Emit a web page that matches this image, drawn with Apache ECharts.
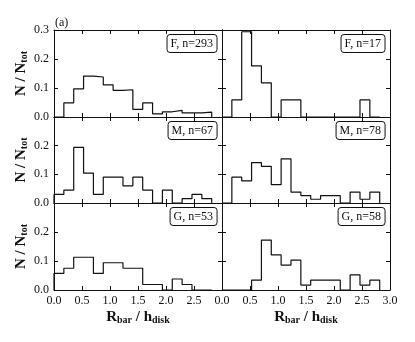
<!DOCTYPE html>
<html>
<head>
<meta charset="utf-8">
<script src="https://cdn.jsdelivr.net/npm/echarts@6/dist/echarts.min.js"></script>
<style>
html, body { margin: 0; background: #fff; }
#chart { width: 415px; height: 342px; }
</style>
</head>
<body>
<div id="chart"></div>
<script>
// bin edges of R_bar / h_disk (same for every panel)
var binEdges = [0.000, 0.176, 0.352, 0.528, 0.704, 0.880, 1.056, 1.232, 1.408,
                1.584, 1.760, 1.936, 2.112, 2.288, 2.464, 2.640, 2.816];

// N / N_tot per bin
var fLeft  = [0, 0.049, 0.097, 0.141, 0.138, 0.111, 0.092, 0.094, 0.026, 0.049, 0.011, 0.018, 0.023, 0.014, 0.014, 0.017];
var fRight = [0, 0.059, 0.294, 0.176, 0.118, 0, 0.059, 0.059, 0, 0, 0, 0, 0, 0, 0.059, 0];
var mLeft  = [0.030, 0.045, 0.194, 0.104, 0.030, 0.090, 0.090, 0.060, 0.090, 0.045, 0, 0.045, 0, 0.015, 0.030, 0.015];
var mRight = [0, 0.090, 0.077, 0.141, 0.128, 0.064, 0.154, 0.038, 0.026, 0.013, 0.026, 0.026, 0, 0.038, 0.013, 0.038];
var gLeft  = [0.057, 0.075, 0.113, 0.113, 0.057, 0.094, 0.094, 0.075, 0.075, 0.019, 0.019, 0, 0.038, 0.019, 0, 0];
var gRight = [0, 0, 0, 0.034, 0.172, 0.121, 0.086, 0.103, 0.017, 0.034, 0.034, 0.034, 0, 0.052, 0.017, 0.034];

var panelValues = [fLeft, fRight, mLeft, mRight, gLeft, gRight];
var panelLabels = ['F, n=293', 'F, n=17', 'M, n=67', 'M, n=78', 'G, n=53', 'G, n=58'];

var FONT = '"Liberation Serif", "Times New Roman", serif';
var INK = '#111';

var colLeft = [54, 222];
var colWidth = 168;
var rowTop = [30, 117, 203];
var rowHeight = [87, 86, 87];

// outline of a step histogram
function stepData(vals) {
    var pts = [[binEdges[0], 0]];
    for (var i = 0; i < vals.length; i++) {
        pts.push([binEdges[i], vals[i]]);
    }
    pts.push([binEdges[binEdges.length - 1], vals[vals.length - 1]]);
    pts.push([binEdges[binEdges.length - 1], 0]);
    return pts;
}

var grids = [], xAxes = [], yAxes = [], series = [], titles = [];

for (var p = 0; p < 6; p++) {
    var row = Math.floor(p / 2), col = p % 2;
    grids.push({
        left: colLeft[col], top: rowTop[row],
        width: colWidth, height: rowHeight[row]
    });

    var line = { show: true, onZero: false, lineStyle: { color: INK, width: 1 } };
    var tick = { show: true, inside: true, length: 4, lineStyle: { color: INK, width: 1 } };

    // bottom x axis
    xAxes.push({
        type: 'value', gridIndex: p, position: 'bottom',
        min: 0, max: 3, interval: 0.5,
        axisLine: line, axisTick: tick, splitLine: { show: false },
        axisLabel: {
            show: row === 2, margin: 5, color: INK,
            fontFamily: FONT, fontSize: 12,
            showMaxLabel: col === 1,
            formatter: function (v) { return v.toFixed(1); }
        },
        name: row === 2 ? '{b|R}{s|bar}{b| / h}{s|disk}' : '',
        nameLocation: 'middle', nameGap: 19,
        nameTextStyle: {
            rich: {
                b: { fontFamily: FONT, fontWeight: 'bold', fontSize: 15, color: INK },
                s: { fontFamily: FONT, fontWeight: 'bold', fontSize: 10, color: INK, padding: [6, 0, 0, 0] }
            }
        }
    });
    // top x axis (ticks only)
    xAxes.push({
        type: 'value', gridIndex: p, position: 'top',
        min: 0, max: 3, interval: 0.5,
        axisLine: line, axisTick: tick, splitLine: { show: false },
        axisLabel: { show: false }
    });
    // left y axis
    yAxes.push({
        type: 'value', gridIndex: p, position: 'left',
        min: 0, max: 0.3, interval: 0.1,
        axisLine: line, axisTick: tick, splitLine: { show: false },
        axisLabel: {
            show: col === 0, margin: 5, color: INK,
            fontFamily: FONT, fontSize: 12,
            showMaxLabel: row === 0,
            formatter: function (v) { return v.toFixed(1); }
        },
        name: col === 0 ? '{b|N / N}{s|tot}' : '',
        nameLocation: 'middle', nameGap: 25, nameRotate: 90,
        nameTextStyle: {
            rich: {
                b: { fontFamily: FONT, fontWeight: 'bold', fontSize: 15, color: INK },
                s: { fontFamily: FONT, fontWeight: 'bold', fontSize: 10, color: INK, padding: [6, 0, 0, 0] }
            }
        }
    });
    // right y axis (ticks only)
    yAxes.push({
        type: 'value', gridIndex: p, position: 'right',
        min: 0, max: 0.3, interval: 0.1,
        axisLine: line, axisTick: tick, splitLine: { show: false },
        axisLabel: { show: false }
    });

    series.push({
        type: 'line', xAxisIndex: p * 2, yAxisIndex: p * 2,
        step: 'end', symbol: 'none', silent: true,
        lineStyle: { color: INK, width: 1.2 },
        data: stepData(panelValues[p])
    });

    titles.push({
        text: panelLabels[p],
        right: 415 - (colLeft[col] + colWidth - 5),
        top: rowTop[row] + 4,
        borderColor: INK, borderWidth: 1, borderRadius: 3,
        padding: [4, 4, 3, 4],
        textStyle: { fontFamily: FONT, fontSize: 12, fontWeight: 'normal', color: INK }
    });
}

titles.push({
    text: '(a)', left: 55, top: 17, padding: 0,
    textStyle: { fontFamily: FONT, fontSize: 12, fontWeight: 'normal', color: INK }
});

var myChart = echarts.init(document.getElementById('chart'), null, { renderer: 'canvas' });
myChart.setOption({
    animation: false,
    backgroundColor: '#fff',
    title: titles,
    grid: grids,
    xAxis: xAxes,
    yAxis: yAxes,
    series: series
});
</script>
</body>
</html>
